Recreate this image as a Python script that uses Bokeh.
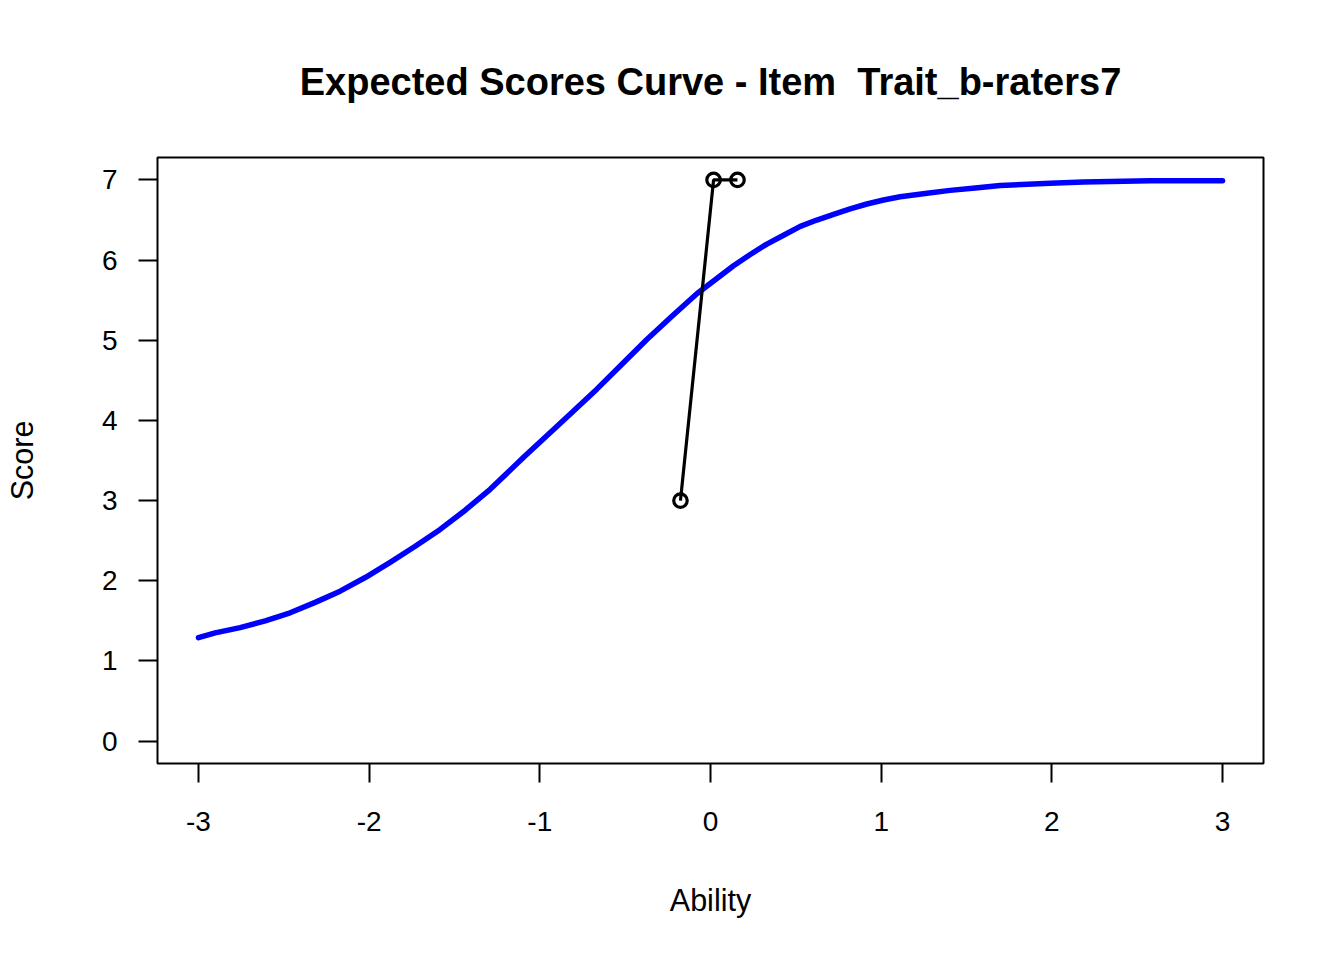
from bokeh.plotting import figure
from bokeh.models import Range1d, FixedTicker, Title
from bokeh.embed import file_html
from bokeh.resources import INLINE

# Expected score curve (blue)
curve_ability = [-3.0, -2.902, -2.756, -2.609, -2.463, -2.316, -2.170, -2.023, -1.877,
                 -1.730, -1.584, -1.437, -1.291, -1.095, -0.959, -0.812, -0.666, -0.519,
                 -0.373, -0.226, -0.080, 0.135, 0.233, 0.330, 0.428, 0.526, 0.623,
                 0.721, 0.818, 0.916, 1.014, 1.111, 1.258, 1.404, 1.551, 1.697,
                 1.99, 2.186, 2.576, 3.0]
curve_score = [1.29, 1.35, 1.415, 1.50, 1.60, 1.73, 1.87, 2.04, 2.23,
               2.43, 2.64, 2.88, 3.14, 3.54, 3.81, 4.10, 4.39, 4.70,
               5.01, 5.30, 5.58, 5.93, 6.07, 6.20, 6.31, 6.42, 6.50,
               6.57, 6.64, 6.70, 6.75, 6.79, 6.83, 6.87, 6.90, 6.93,
               6.96, 6.975, 6.99, 6.99]

# Observed scores (black line with open circles)
obs_ability = [-0.176, 0.018, 0.158]
obs_score = [3, 7, 7]

x_ticks = [-3, -2, -1, 0, 1, 2, 3]
y_ticks = [0, 1, 2, 3, 4, 5, 6, 7]

# the double space is kept visible with a no-break space
title_text = "Expected Scores Curve - Item\u00a0 Trait_b-raters7"
x_label_text = "Ability"
y_label_text = "Score"

FONT = "Liberation Sans"

p = figure(frame_width=1106, frame_height=606,
           x_range=Range1d(-3.24, 3.24), y_range=Range1d(-0.28, 7.28),
           output_backend="svg", toolbar_location=None,
           min_border_left=157, min_border_right=70,
           min_border_top=157, min_border_bottom=185)

p.background_fill_color = "white"
p.border_fill_color = "white"
p.outline_line_color = "black"
p.outline_line_width = 2
p.xgrid.visible = False
p.ygrid.visible = False

for ax, ticks in ((p.xaxis, x_ticks), (p.yaxis, y_ticks)):
    ax.ticker = FixedTicker(ticks=ticks)
    ax.major_label_overrides = {t: str(t) for t in ticks}
    ax.axis_line_color = None
    ax.major_tick_line_color = "black"
    ax.major_tick_line_width = 2
    ax.major_tick_in = 0
    ax.major_tick_out = 19
    ax.minor_tick_line_color = None
    ax.major_label_text_font = FONT
    ax.major_label_text_font_size = "28px"
    ax.major_label_text_color = "black"
    ax.axis_label_text_font = FONT
    ax.axis_label_text_font_size = "30.5px"
    ax.axis_label_text_font_style = "normal"
    ax.axis_label_text_color = "black"

p.xaxis.major_label_standoff = 29
p.yaxis.major_label_standoff = 21
p.xaxis.axis_label = x_label_text
p.yaxis.axis_label = y_label_text
p.xaxis.axis_label_standoff = 49
p.yaxis.axis_label_standoff = 60

p.line(curve_ability, curve_score, line_color="#0000ff", line_width=5.5,
       line_join="round", line_cap="round")
p.line(obs_ability, obs_score, line_color="black", line_width=3.2)
p.scatter(obs_ability, obs_score, marker="circle", size=13.5,
          fill_color=None, line_color="black", line_width=3.2)

title = Title(text=title_text, align="center", text_font=FONT,
              text_font_style="bold", text_font_size="38px", text_color="black",
              vertical_align="bottom")
if "standoff" in Title.properties():
    title.standoff = 109
p.add_layout(title, "above")

open("out.html", "w").write(file_html(p, INLINE))
